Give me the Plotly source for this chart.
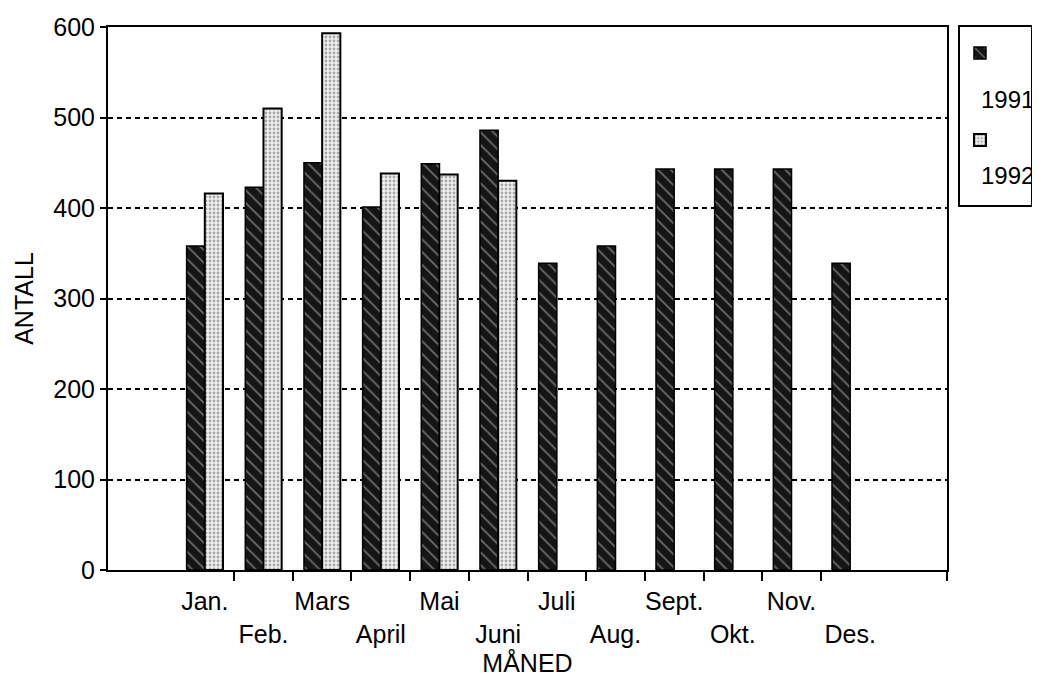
import plotly.graph_objects as go

months = ["Jan.", "Feb.", "Mars", "April", "Mai", "Juni", "Juli", "Aug.", "Sept.", "Okt.", "Nov.", "Des."]
v1991 = [358, 423, 450, 401, 449, 486, 339, 358, 443, 443, 443, 339]
v1992 = [416, 510, 593, 438, 437, 430, None, None, None, None, None, None]
series_names = ["1991", "1992"]
y_ticks = [0, 100, 200, 300, 400, 500, 600]

xpos = list(range(len(months)))
tick_text = [m if i % 2 == 0 else "&nbsp;<br>" + m for i, m in enumerate(months)]
boundaries = [i + 0.5 for i in range(len(months) - 1)]

font_family = "Liberation Sans, Arial, Helvetica, sans-serif"
FS = 25
# legend item name: swatch on top line, blank second line where the year label is written
blank_name = "&nbsp;&nbsp;&nbsp;<br>&nbsp;"

fig = go.Figure()
fig.add_trace(go.Bar(
    x=xpos, y=v1991, name=blank_name, legendgroup="a",
    marker=dict(
        color="#151515",
        line=dict(color="black", width=1.5),
        pattern=dict(shape="\\", bgcolor="#151515", fgcolor="#c8c8c8",
                     size=9, solidity=0.18, fillmode="overlay"),
    ),
))
fig.add_trace(go.Bar(
    x=xpos, y=v1992, name=blank_name + "&#8203;", legendgroup="b",
    marker=dict(
        color="white",
        line=dict(color="black", width=2),
        pattern=dict(shape=".", bgcolor="#f0f0f0", fgcolor="#5e5e5e",
                     size=4, solidity=0.38, fillmode="overlay"),
    ),
))

# year labels under legend swatches
label_y = [0.8656, 0.7274]
for name, ly in zip(series_names, label_y):
    fig.add_annotation(text=name, x=1.072, y=ly, xref="paper", yref="paper",
                       showarrow=False, xanchor="center", yanchor="middle",
                       font=dict(size=24))

fig.update_layout(
    width=1040, height=681,
    margin=dict(l=100, r=101, t=19, b=119, autoexpand=False),
    paper_bgcolor="white", plot_bgcolor="white",
    barmode="group", bargap=0.38, bargroupgap=0.0,
    font=dict(family=font_family, size=FS, color="black"),
    legend=dict(
        x=1.0131, y=1.0037, xanchor="left", yanchor="top",
        bordercolor="black", borderwidth=2, bgcolor="rgba(0,0,0,0)",
        font=dict(size=30), tracegroupgap=6, itemwidth=30, valign="top",
    ),
    showlegend=True,
)

fig.update_xaxes(
    range=[-1.65, 12.65], automargin=False,
    tickmode="array", tickvals=xpos, ticktext=tick_text,
    ticks="", showgrid=False, zeroline=False, ticklabelstandoff=8,
    showline=True, linecolor="black", linewidth=2, mirror=True,
    tickfont=dict(size=FS),
    minor=dict(tickmode="array", tickvals=boundaries + [12.65], ticks="outside",
               ticklen=9, tickwidth=2, tickcolor="black", showgrid=False),
    title=dict(text="MÅNED", standoff=6, font=dict(size=FS)),
)
fig.update_yaxes(
    range=[0, 600], automargin=False,
    tickmode="array", tickvals=y_ticks,
    ticks="outside", ticklen=6, tickwidth=2, tickcolor="black",
    showline=True, linecolor="black", linewidth=2, mirror=True,
    showgrid=True, gridcolor="black", gridwidth=2, griddash="5px,4px",
    zeroline=False,
    tickfont=dict(size=FS),
    title=dict(text="ANTALL", standoff=13, font=dict(size=FS)),
)

fig.write_html("out.html")
